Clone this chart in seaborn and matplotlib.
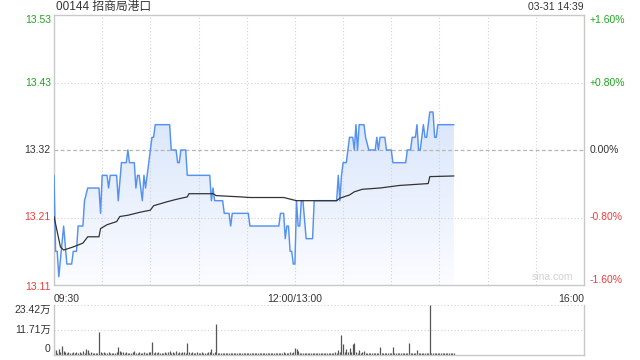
import numpy as np
import pandas as pd
import matplotlib
matplotlib.use("Agg")
import matplotlib.pyplot as plt
import matplotlib.transforms as mtransforms
from matplotlib.colors import LinearSegmentedColormap
import seaborn as sns

# ---------------- data ----------------
title_text = "00144 招商局港口"
stamp_text = "03-31 14:39"
prev_close = 13.32
pct_levels = [1.6, 0.8, 0.0, -0.8, -1.6]
price_labels = ["13.53", "13.43", "13.32", "13.21", "13.11"]
pct_labels = ["+1.60%", "+0.80%", "0.00%", "-0.80%", "-1.60%"]
time_labels = ["09:30", "12:00/13:00", "16:00"]
time_label_pos = [0, 150, 330]
session_minutes = 330
vol_max = 23.42
vol_labels = ["23.42万", "11.71万", "0"]

# price line vertices (minute since 09:30, price)
price_min = [0, 1, 2, 3, 6, 8, 11, 12, 14, 15, 18, 19, 21, 28, 29, 30, 33, 34, 35, 39,
             40, 42, 45, 46, 47, 50, 51, 52, 53, 55, 56, 57, 58, 59, 61, 62, 63, 72, 73, 76,
             77, 78, 79, 82, 83, 97, 98, 99, 100, 105, 106, 109, 110, 111, 121, 122, 140, 141, 143, 144,
             145, 146, 147, 148, 149, 150, 151, 152, 153, 154, 155, 157, 161, 162, 176, 177, 178, 179, 180, 182,
             184, 186, 187, 188, 189, 190, 193, 194, 196, 200, 201, 202, 203, 206, 207, 210, 211, 219, 220, 222,
             223, 225, 226, 227, 228, 230, 231, 232, 234, 236, 237, 238, 239, 249]
price_val = [13.28, 13.16, 13.16, 13.12, 13.20, 13.14, 13.14, 13.16, 13.16, 13.20, 13.20, 13.24, 13.26, 13.26, 13.22, 13.28, 13.28, 13.26, 13.28, 13.28,
             13.24, 13.30, 13.30, 13.32, 13.30, 13.30, 13.26, 13.28, 13.28, 13.24, 13.28, 13.26, 13.28, 13.30, 13.34, 13.34, 13.36, 13.36, 13.32, 13.32,
             13.30, 13.30, 13.32, 13.32, 13.28, 13.28, 13.24, 13.26, 13.24, 13.24, 13.22, 13.22, 13.20, 13.22, 13.22, 13.20, 13.20, 13.22, 13.22, 13.18,
             13.20, 13.20, 13.16, 13.16, 13.14, 13.14, 13.24, 13.20, 13.20, 13.24, 13.24, 13.18, 13.18, 13.24, 13.24, 13.28, 13.24, 13.28, 13.30, 13.30,
             13.34, 13.34, 13.32, 13.36, 13.32, 13.36, 13.36, 13.34, 13.32, 13.32, 13.34, 13.32, 13.34, 13.34, 13.32, 13.32, 13.30, 13.30, 13.32, 13.32,
             13.34, 13.34, 13.36, 13.32, 13.32, 13.36, 13.34, 13.34, 13.38, 13.38, 13.34, 13.34, 13.36, 13.36]

# average price line vertices
avg_min = [0, 4, 6, 12, 18, 21, 28, 29, 33, 39, 41, 46, 54, 60, 62, 70, 76, 83, 84, 99,
           101, 116, 122, 143, 151, 176, 178, 184, 187, 192, 203, 215, 233, 234, 249]
avg_val = [13.215, 13.167, 13.162, 13.167, 13.173, 13.183, 13.183, 13.196, 13.202, 13.207,
           13.215, 13.217, 13.222, 13.225, 13.232, 13.238, 13.242, 13.246, 13.251, 13.251,
           13.248, 13.246, 13.245, 13.245, 13.240, 13.240, 13.244, 13.249, 13.254, 13.258,
           13.260, 13.264, 13.267, 13.278, 13.279]

# volume per minute (万股), minutes 0..249
volume = [
    2.4, 2.2, 0.8, 2.4, 1.0, 4.0, 1.5, 1.0, 0.8, 1.2,
    0.6, 0.9, 1.0, 0.7, 1.3, 0.8, 1.1, 0.6, 1.6, 0.9,
    2.4, 2.0, 0.7, 1.2, 0.8, 0.6, 0.9, 0.7, 10.5, 1.0,
    0.6, 1.0, 0.8, 0.7, 1.2, 0.6, 0.9, 0.5, 0.8, 1.0,
    3.5, 1.6, 1.2, 1.0, 0.8, 1.4, 0.7, 0.9, 0.6, 1.0,
    1.8, 0.7, 0.9, 1.2, 0.6, 0.8, 1.0, 0.7, 0.9, 1.2,
    1.0, 6.0, 0.8, 1.0, 0.6, 1.3, 0.7, 0.9, 0.6, 1.4,
    0.8, 1.0, 1.6, 0.7, 1.2, 0.9, 1.5, 0.7, 1.1, 0.8,
    1.0, 1.3, 0.9, 5.4, 1.0, 0.8, 1.1, 0.7, 0.9, 1.0,
    0.8, 0.6, 1.0, 0.7, 0.9, 0.8, 1.0, 1.2, 2.6, 0.8,
    1.0, 14.5, 0.8, 0.6, 0.9, 0.7, 0.5, 0.8, 0.6, 0.7,
    0.5, 0.8, 0.6, 0.7, 0.5, 0.9, 0.6, 0.5, 0.7, 0.6,
    0.5, 0.7, 0.6, 0.8, 0.5, 0.6, 0.7, 0.5, 0.6, 0.8,
    0.6, 0.5, 0.7, 0.6, 0.8, 0.5, 0.6, 0.7, 0.6, 0.9,
    0.7, 0.6, 0.8, 1.0, 0.7, 0.9, 0.6, 1.1, 0.8, 1.2,
    3.0, 2.5, 1.5, 0.8, 0.6, 0.7, 0.5, 0.6, 0.5, 0.7,
    0.6, 0.5, 0.6, 0.7, 0.5, 0.6, 0.5, 0.7, 0.6, 0.5,
    0.6, 0.7, 0.5, 0.8, 0.6, 1.0, 0.8, 2.0, 1.0, 9.1,
    5.0, 1.0, 2.7, 1.2, 3.0, 1.0, 5.0, 5.5, 1.0, 0.8,
    2.0, 0.8, 1.0, 1.7, 0.8, 0.6, 0.7, 0.9, 0.6, 0.7,
    0.6, 0.8, 0.7, 3.7, 0.6, 0.7, 0.5, 0.8, 0.6, 0.7,
    0.9, 3.7, 0.7, 0.6, 0.5, 0.7, 0.6, 0.8, 0.5, 0.7,
    0.8, 5.3, 0.9, 0.6, 0.7, 0.8, 2.0, 0.7, 0.6, 0.8,
    0.6, 0.7, 0.9, 0.8, 23.42, 0.9, 0.6, 0.5, 0.7, 0.6,
    0.5, 0.6, 0.7, 0.5, 0.6, 0.5, 0.7, 0.6, 0.5, 0.6,
]

# ---------------- style ----------------
sns.set_theme(style="white")
plt.rcParams["font.family"] = ["Liberation Sans", "Noto Sans CJK SC", "DejaVu Sans"]

GREEN = "#1fa51f"
RED = "#f03a3a"
DARK = "#333333"
GRID = "#d2d2d2"
FRAME = "#c8c8c8"
BLUE = "#5592f0"

W, H = 640, 360
fig = plt.figure(figsize=(6.4, 3.6), dpi=100)
ax = fig.add_axes([54 / W, 1 - 285 / H, 530 / W, 270 / H])
axv = fig.add_axes([54 / W, 1 - 354.5 / H, 530 / W, 49.5 / H])

ymin = prev_close * (1 - 0.016)
ymax = prev_close * (1 + 0.016)

df_p = pd.DataFrame({"minute": price_min, "price": price_val})
df_a = pd.DataFrame({"minute": avg_min, "avg": avg_val})

# gradient fill under the price line
poly = ax.fill_between(df_p["minute"], df_p["price"], ymin, color="none", lw=0)
cmap = LinearSegmentedColormap.from_list("g", [(0.985, 0.99, 1.0), (0.85, 0.90, 0.985)])
grad = np.linspace(1, 0, 256).reshape(-1, 1)
im = ax.imshow(grad, extent=[0, max(price_min), ymin, max(price_val)], aspect="auto",
               cmap=cmap, zorder=1, interpolation="bilinear")
im.set_clip_path(poly.get_paths()[0], transform=ax.transData)

sns.lineplot(data=df_p, x="minute", y="price", ax=ax, color=BLUE, lw=1.05,
             estimator=None, sort=False, zorder=3)
sns.lineplot(data=df_a, x="minute", y="avg", ax=ax, color=DARK, lw=0.9,
             estimator=None, sort=False, zorder=4)

ax.set_xlim(0, session_minutes)
ax.set_ylim(ymin, ymax)
ax.set_xlabel("")
ax.set_ylabel("")
ax.set_xticks([])
ax.set_yticks([])

# grid
for m in range(30, session_minutes, 30):
    ax.axvline(m, color=GRID, lw=0.8, ls=(0, (1, 2)), zorder=2)
for p in pct_levels[1:-1]:
    lvl = prev_close * (1 + p / 100)
    if p == 0:
        ax.axhline(lvl, color="#b5b5b5", lw=0.9, ls=(0, (3, 2)), zorder=2)
    else:
        ax.axhline(lvl, color=GRID, lw=0.8, ls=(0, (1, 2)), zorder=2)

for s in ax.spines.values():
    s.set_color(FRAME)
    s.set_linewidth(1.0)
    s.set_visible(True)

# axis labels
trans = mtransforms.blended_transform_factory(ax.transAxes, ax.transData)
n = len(pct_levels)
for i, (p, pl, ql) in enumerate(zip(pct_levels, price_labels, pct_labels)):
    lvl = prev_close * (1 + p / 100)
    col = GREEN if p > 0 else (RED if p < 0 else DARK)
    if i == 0:
        ax.text(-0.006, lvl, pl, transform=trans, ha="right", va="top", color=col, fontsize=7.5)
        ax.text(1.011, lvl, ql, transform=trans, ha="left", va="top", color=col, fontsize=7.5)
    elif i == n - 1:
        ax.text(-0.006, lvl - 0.003, pl, transform=trans, ha="right", va="center", color=col, fontsize=7.5)
        ax.text(1.011, lvl, ql, transform=trans, ha="left", va="bottom", color=col, fontsize=7.5)
    else:
        ax.text(-0.006, lvl, pl, transform=trans, ha="right", va="center", color=col, fontsize=7.5)
        ax.text(1.011, lvl, ql, transform=trans, ha="left", va="center", color=col, fontsize=7.5)

transx = mtransforms.blended_transform_factory(ax.transData, ax.transAxes)
has = ["left", "center", "right"]
for lab, pos, ha in zip(time_labels, time_label_pos, has):
    ax.text(pos, -0.035, lab, transform=transx, ha=ha, va="top", color=DARK, fontsize=7.5)

ax.text(0.003, 1.028, title_text, transform=ax.transAxes, ha="left", va="center",
        color=DARK, fontsize=8.5)
ax.text(1.0, 1.028, stamp_text, transform=ax.transAxes, ha="right", va="center",
        color=DARK, fontsize=7.5)
ax.text(0.94, 0.012, "sina.com", transform=ax.transAxes, ha="center", va="bottom",
        color="#d2d2d2", fontsize=7.5)

# volume
vminutes = np.arange(len(volume))
axv.vlines(vminutes, 0, volume, color="#555555", lw=0.9)
axv.set_xlim(0, session_minutes)
axv.set_ylim(0, vol_max)
axv.set_xticks([])
axv.set_yticks([])
axv.axhline(vol_max, color=GRID, lw=0.8, ls=(0, (1, 2)))
axv.axhline(vol_max / 2, color=GRID, lw=0.8, ls=(0, (1, 2)))
for k, s in axv.spines.items():
    s.set_color(FRAME)
    s.set_linewidth(1.0)
axv.spines["top"].set_visible(False)
transv = mtransforms.blended_transform_factory(axv.transAxes, axv.transData)
for val, lab, va in zip([vol_max, vol_max / 2, 0], vol_labels, ["top", "center", "bottom"]):
    axv.text(-0.006, val, lab, transform=transv, ha="right", va=va, color=DARK, fontsize=7.5)

fig.savefig("out.png", dpi=100, facecolor="white")
